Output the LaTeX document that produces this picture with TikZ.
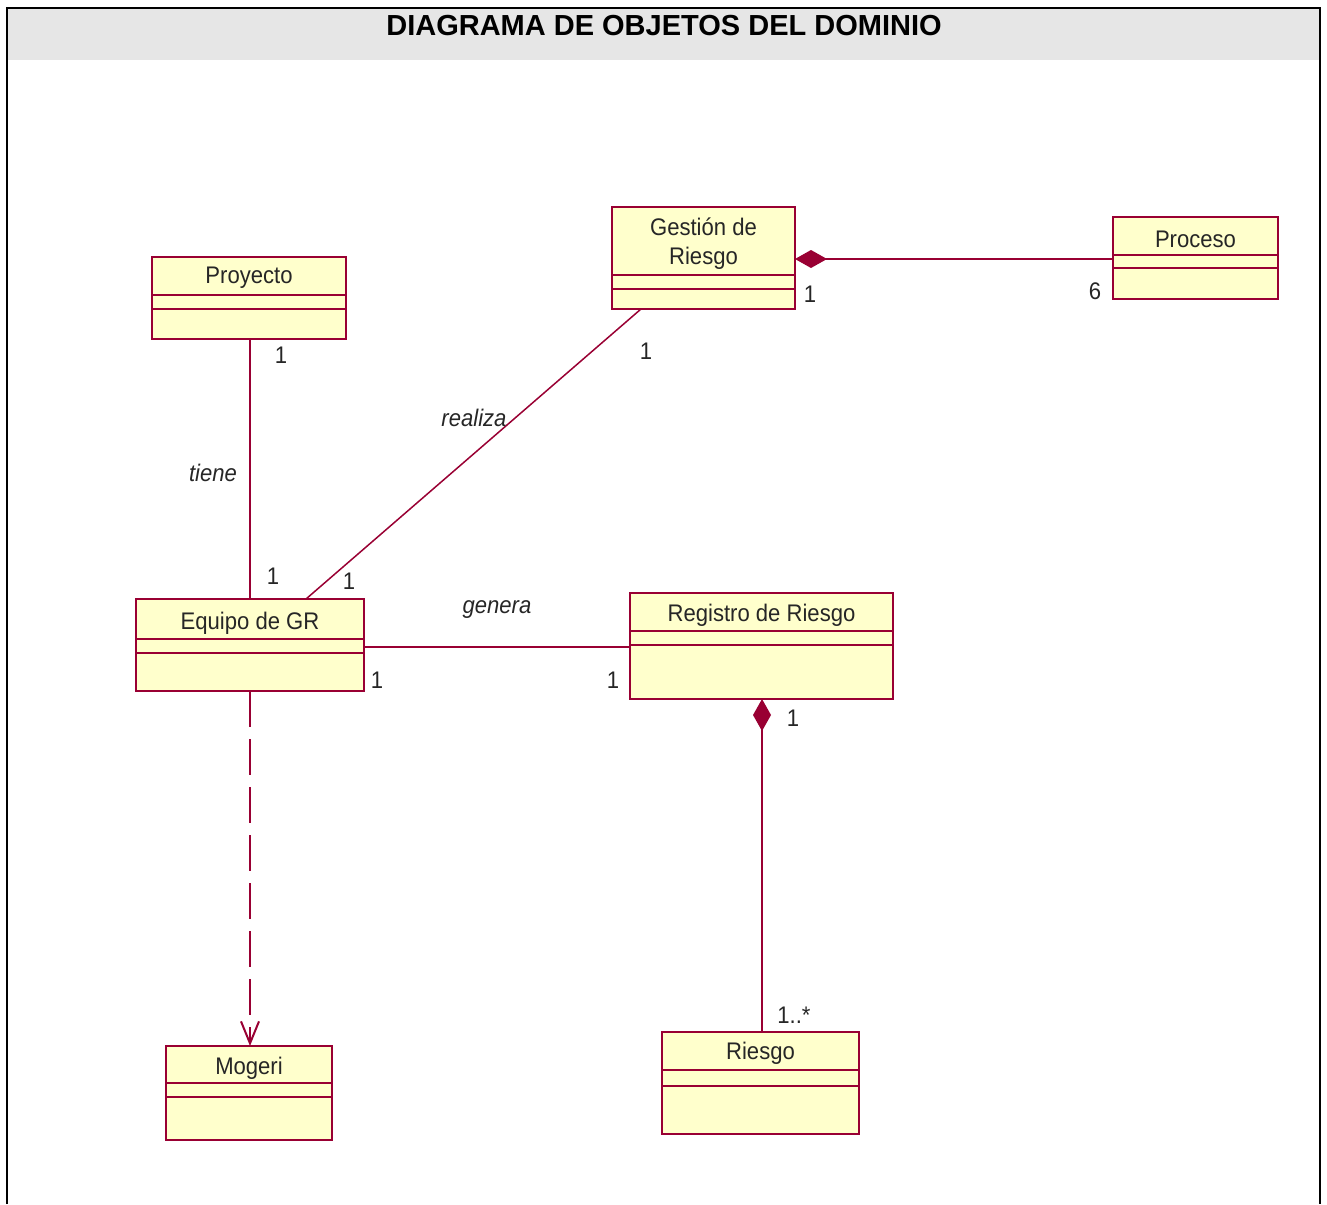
\documentclass[tikz,border=0pt]{standalone}
\usepackage{fontspec}
\setmainfont{Liberation Sans}
\newfontfamily\rosefont[FakeStretch=0.92]{Liberation Sans}
\usetikzlibrary{arrows.meta}

\definecolor{umlline}{RGB}{153,0,51}
\definecolor{umlfill}{RGB}{255,255,204}
\definecolor{headgray}{RGB}{230,230,230}

\tikzset{
  classbox/.style={draw=umlline, fill=umlfill, line width=2pt, rectangle,
    inner sep=0pt, outer sep=0pt, anchor=north west},
  classsep/.style={draw=umlline, line width=2pt},
  classname/.style={font=\rosefont\fontsize{24}{29}\selectfont, align=center,
    inner sep=0pt, text=black!85},
  assoc/.style={draw=umlline, line width=2pt},
  thinassoc/.style={draw=umlline, line width=1.5pt},
  depend/.style={draw=umlline, line width=2pt, dash pattern=on 36pt off 12pt,
    -{Straight Barb[length=22pt,width=18pt,line width=2pt]}},
  compose/.style={{Diamond[length=32pt,width=18pt]}-},
  mult/.style={font=\rosefont\fontsize{24}{28}\selectfont, inner sep=0pt, text=black!85},
  rolename/.style={font=\rosefont\itshape\fontsize{24}{28}\selectfont, inner sep=0pt, text=black!85},
}

\begin{document}
\begin{tikzpicture}[x=1pt,y=-1pt]
\useasboundingbox (0,0) rectangle (1327,1204);

% frame and heading
\fill[headgray] (8,9) rectangle (1319,60);
\draw[black, line width=2pt] (7,1204) -- (7,8) -- (1320,8) -- (1320,1204);
\node[font=\bfseries\fontsize{29}{33}\selectfont, inner sep=0pt] (title) at (664,26)
  {DIAGRAMA DE OBJETOS DEL DOMINIO};

% classes
\node[classbox, minimum width=194pt, minimum height=82pt] (proy) at (152,257) {};
\draw[classsep] ([yshift=-38pt]proy.north west) -- ([yshift=-38pt]proy.north east);
\draw[classsep] ([yshift=-52pt]proy.north west) -- ([yshift=-52pt]proy.north east);
\node[classname] (proyname) at ([yshift=-21pt]proy.north) {Proyecto};

\node[classbox, minimum width=183pt, minimum height=102pt] (gest) at (612,207) {};
\draw[classsep] ([yshift=-68pt]gest.north west) -- ([yshift=-68pt]gest.north east);
\draw[classsep] ([yshift=-82pt]gest.north west) -- ([yshift=-82pt]gest.north east);
\node[classname] (gestname) at ([yshift=-37pt]gest.north) {Gestión de\\Riesgo};

\node[classbox, minimum width=165pt, minimum height=82pt] (proc) at (1113,217) {};
\draw[classsep] ([yshift=-38pt]proc.north west) -- ([yshift=-38pt]proc.north east);
\draw[classsep] ([yshift=-51pt]proc.north west) -- ([yshift=-51pt]proc.north east);
\node[classname] (procname) at ([yshift=-22pt]proc.north) {Proceso};

\node[classbox, minimum width=228pt, minimum height=92pt] (equipo) at (136,599) {};
\draw[classsep] ([yshift=-40pt]equipo.north west) -- ([yshift=-40pt]equipo.north east);
\draw[classsep] ([yshift=-54pt]equipo.north west) -- ([yshift=-54pt]equipo.north east);
\node[classname] (equiponame) at ([yshift=-24pt]equipo.north) {Equipo de GR};

\node[classbox, minimum width=263pt, minimum height=106pt] (reg) at (630,593) {};
\draw[classsep] ([yshift=-38pt]reg.north west) -- ([yshift=-38pt]reg.north east);
\draw[classsep] ([yshift=-52pt]reg.north west) -- ([yshift=-52pt]reg.north east);
\node[classname] (regname) at ([yshift=-22pt]reg.north) {Registro de Riesgo};

\node[classbox, minimum width=166pt, minimum height=94pt] (mog) at (166,1046) {};
\draw[classsep] ([yshift=-37pt]mog.north west) -- ([yshift=-37pt]mog.north east);
\draw[classsep] ([yshift=-51pt]mog.north west) -- ([yshift=-51pt]mog.north east);
\node[classname] (mogname) at ([yshift=-22pt]mog.north) {Mogeri};

\node[classbox, minimum width=197pt, minimum height=102pt] (ries) at (662,1032) {};
\draw[classsep] ([yshift=-38pt]ries.north west) -- ([yshift=-38pt]ries.north east);
\draw[classsep] ([yshift=-54pt]ries.north west) -- ([yshift=-54pt]ries.north east);
\node[classname] (riesname) at ([yshift=-21pt]ries.north) {Riesgo};

% associations
\draw[assoc] (equipo.north |- proy.south) -- (equipo.north);
\draw[thinassoc] ([xshift=29pt]gest.south west) -- ([xshift=170pt]equipo.north west);
\draw[assoc, compose] ([yshift=-52pt]gest.north east) -- ([yshift=-42pt]proc.north west);
\draw[assoc] ([yshift=-48pt]equipo.north east) -- ([yshift=-48pt]equipo.north east -| reg.west);
\draw[assoc, compose] ([xshift=132pt]reg.south west) -- ([xshift=100pt]ries.north west);
\draw[depend] (equipo.south) -- (equipo.south |- mog.north);

% association names
\node[rolename] (tiene) at (213,473) {tiene};
\node[rolename] (realiza) at (474,418) {realiza};
\node[rolename] (genera) at (497,610) {genera};

% multiplicities
\node[mult] (m1) at (281,355) {1};
\node[mult] (m2) at (273,576) {1};
\node[mult] (m3) at (646,351) {1};
\node[mult] (m4) at (349,581) {1};
\node[mult] (m5) at (810,294) {1};
\node[mult] (m6) at (1095,291) {6};
\node[mult] (m7) at (377,680) {1};
\node[mult] (m8) at (613,680) {1};
\node[mult] (m9) at (793,718) {1};
\node[mult] (m10) at (794,1015) {1..*};
\end{tikzpicture}
\end{document}
